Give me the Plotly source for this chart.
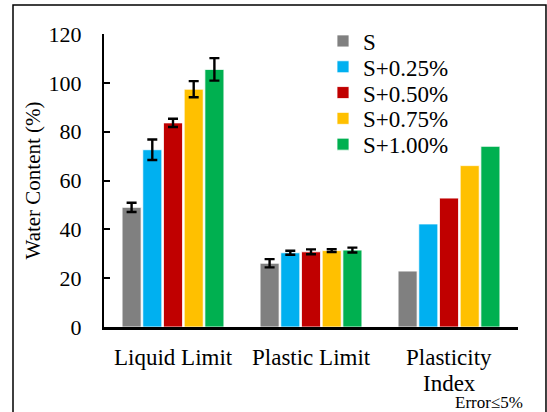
import plotly.graph_objects as go

# Atterberg limits of soil S with increasing additive content
categories = ["Liquid Limit", "Plastic Limit", "Plasticity Index"]
tick_label_lines = [["Liquid Limit"], ["Plastic Limit"], ["Plasticity", "Index"]]
series_names = ["S", "S+0.25%", "S+0.50%", "S+0.75%", "S+1.00%"]
series_colors = ["#808080", "#00B0F0", "#C00000", "#FFC000", "#00B050"]

liquid_limit = [49.0, 72.6, 83.6, 97.4, 105.5]
plastic_limit = [26.1, 30.4, 30.8, 31.3, 31.5]
plasticity_index = [22.9, 42.2, 52.8, 66.1, 74.0]

# error bars are drawn for the two measured limits only
liquid_err = [1.9, 4.2, 1.7, 3.3, 4.6]
plastic_err = [1.7, 0.8, 1.0, 0.6, 1.0]

FONT = "Times New Roman"
PLOT_H = 293      # plot area height in px
X0_PX = 327       # y pixel of the x axis

fig = go.Figure()
legend_layout = {}
for i, name in enumerate(series_names):
    vals = [liquid_limit[i], plastic_limit[i], plasticity_index[i]]
    errs = [liquid_err[i], plastic_err[i]]
    legend_id = "legend" if i == 0 else f"legend{i + 1}"
    fig.add_trace(go.Bar(
        x=categories,
        y=vals,
        name=name,
        legend=legend_id,
        marker=dict(color=series_colors[i], line=dict(color="white", width=0.8)),
        error_y=dict(type="data", array=errs, visible=True,
                     color="black", thickness=2.4, width=5),
    ))
    # one legend box per series, stacked with a tight row pitch
    legend_layout[legend_id] = dict(
        x=0.529, y=(X0_PX - (41 + 25.8 * i)) / PLOT_H,
        xanchor="left", yanchor="middle",
        bgcolor="rgba(0,0,0,0)", borderwidth=0,
        font=dict(size=23, family=FONT),
        itemwidth=30,
    )

# category labels under the axis, one annotation per text line
annotations = []
for cat, lines in zip(categories, tick_label_lines):
    for k, line in enumerate(lines):
        annotations.append(dict(
            text=line, showarrow=False, xref="x", yref="paper",
            x=cat, y=(X0_PX - (357 + 26.5 * k)) / PLOT_H,
            xanchor="center", yanchor="middle", font=dict(size=23),
        ))

annotations += [
    dict(text="Water Content (%)", textangle=-90, showarrow=False,
         xref="paper", yref="paper", x=-0.1715, y=0.5,
         xanchor="center", yanchor="middle", font=dict(size=21)),
    dict(text="Error≤5%", showarrow=False,
         xref="paper", yref="paper", x=0.930, y=(X0_PX - 403) / PLOT_H,
         xanchor="center", yanchor="middle", font=dict(size=17)),
]

fig.update_layout(
    width=547, height=412,
    margin=dict(l=104, r=29, t=34, b=85),
    paper_bgcolor="white", plot_bgcolor="white",
    font=dict(family=FONT, size=22, color="black"),
    barmode="group", bargap=0.25, bargroupgap=0.08,
    showlegend=True,
    xaxis=dict(
        range=[-0.5, 2.5],
        showline=True, linecolor="black", linewidth=2.5,
        ticks="", showticklabels=False, showgrid=False, zeroline=False,
    ),
    yaxis=dict(
        range=[0, 120], dtick=20,
        showline=True, linecolor="black", linewidth=2,
        ticks="inside", ticklen=6, tickwidth=2, tickcolor="black",
        showgrid=False, zeroline=False,
        tickfont=dict(size=22),
        ticklabelstandoff=16,
    ),
    shapes=[dict(type="rect", xref="paper", yref="paper",
                 x0=-0.2198, x1=1.0676, y0=-0.35, y1=1.099,
                 line=dict(color="black", width=1.5), layer="below")],
    annotations=annotations,
)
fig.update_layout(**legend_layout)

fig.write_html("out.html")
